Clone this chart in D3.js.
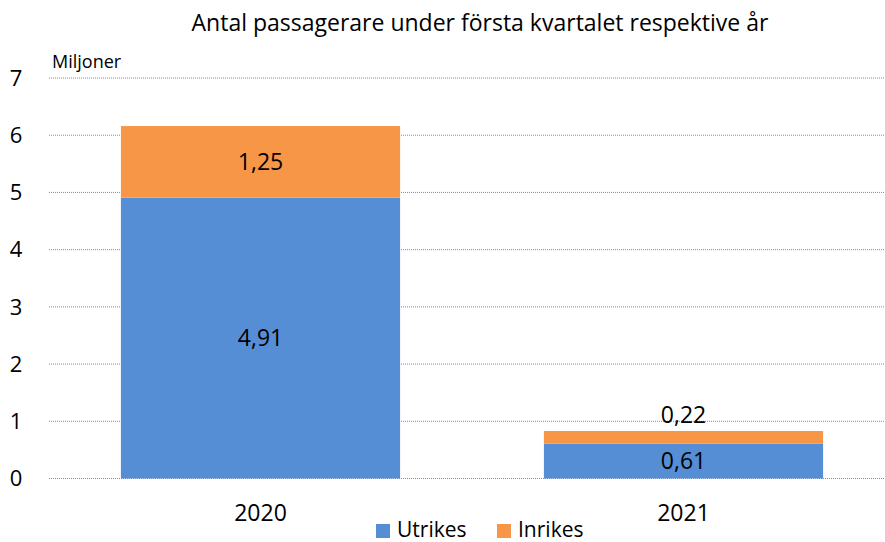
<!DOCTYPE html>
<html lang="sv">
<head>
<meta charset="UTF-8" />
<title>Antal passagerare</title>
<script src="https://d3js.org/d3.v7.min.js"></script>
<style>
    body { margin: 0; background: #fff; }
    svg { display: block; font-family: "Open Sans", "Noto Sans", sans-serif; }
</style>
</head>
<body>
<div id="chart"></div>
<script>
    // Data (miljoner passagerare)
    const years = ["2020", "2021"];
    const utrikes = [4.91, 0.61];
    const inrikes = [1.25, 0.22];
    const seriesNames = ["Utrikes", "Inrikes"];
    const colors = ["#558ed5", "#f79646"];
    const yTicks = [0, 1, 2, 3, 4, 5, 6, 7];

    const width = 885, height = 542;
    const svg = d3.select("#chart").append("svg")
        .attr("width", width).attr("height", height);

    const x = d3.scaleBand().domain(years).range([49, 895]).paddingInner(0.34).paddingOuter(0.17);
    const y = d3.scaleLinear().domain([0, 7]).range([478.5, 78]);

    // gridlines
    svg.append("g").selectAll("line").data(yTicks).join("line")
        .attr("x1", 49).attr("x2", width)
        .attr("y1", d => y(d)).attr("y2", d => y(d))
        .attr("stroke", "#888").attr("stroke-width", 1)
        .attr("stroke-dasharray", "1,1");

    // y axis labels
    svg.append("g").selectAll("text").data(yTicks).join("text")
        .attr("x", 16).attr("y", d => y(d))
        .attr("dy", "0.35em").attr("text-anchor", "middle")
        .attr("font-size", 22).attr("fill", "#000")
        .text(d => d);

    svg.append("text").attr("x", 52).attr("y", 68)
        .attr("font-size", 18).text("Miljoner");

    // stacked bars
    const rows = years.map((yr, i) => ({ year: yr, Utrikes: utrikes[i], Inrikes: inrikes[i] }));
    const stack = d3.stack().keys(seriesNames)(rows);

    const g = svg.append("g");
    stack.forEach((layer, li) => {
        g.append("g").attr("fill", colors[li]).selectAll("rect").data(layer).join("rect")
            .attr("x", d => x(d.data.year))
            .attr("width", x.bandwidth())
            .attr("y", d => y(d[1]))
            .attr("height", d => y(d[0]) - y(d[1]));
    });

    // value labels
    stack.forEach((layer, li) => {
        g.append("g").selectAll("text").data(layer).join("text")
            .attr("x", d => x(d.data.year) + x.bandwidth() / 2)
            .attr("y", d => {
                const h = y(d[0]) - y(d[1]);
                // small segments get their label above the bar
                if (h < 20) return y(d[1]) - 16;
                return (y(d[0]) + y(d[1])) / 2;
            })
            .attr("dy", "0.35em").attr("text-anchor", "middle")
            .attr("font-size", 23).attr("fill", "#000")
            .text(d => d3.format(".2f")(d[1] - d[0]).replace(".", ","));
    });

    // x labels
    svg.append("g").selectAll("text").data(years).join("text")
        .attr("x", d => x(d) + x.bandwidth() / 2).attr("y", 513)
        .attr("dy", "0.35em").attr("text-anchor", "middle")
        .attr("font-size", 23).text(d => d);

    // title
    svg.append("text").attr("x", 480).attr("y", 23)
        .attr("dy", "0.35em").attr("text-anchor", "middle")
        .attr("font-size", 23).text("Antal passagerare under första kvartalet respektive år");

    // legend
    const legendX = [376, 497];
    const lg = svg.append("g");
    seriesNames.forEach((name, i) => {
        lg.append("rect").attr("x", legendX[i]).attr("y", 524)
            .attr("width", 14).attr("height", 14).attr("fill", colors[i]);
        lg.append("text").attr("x", legendX[i] + 21).attr("y", 530)
            .attr("dy", "0.35em").attr("font-size", 21).text(name);
    });
</script>
</body>
</html>
